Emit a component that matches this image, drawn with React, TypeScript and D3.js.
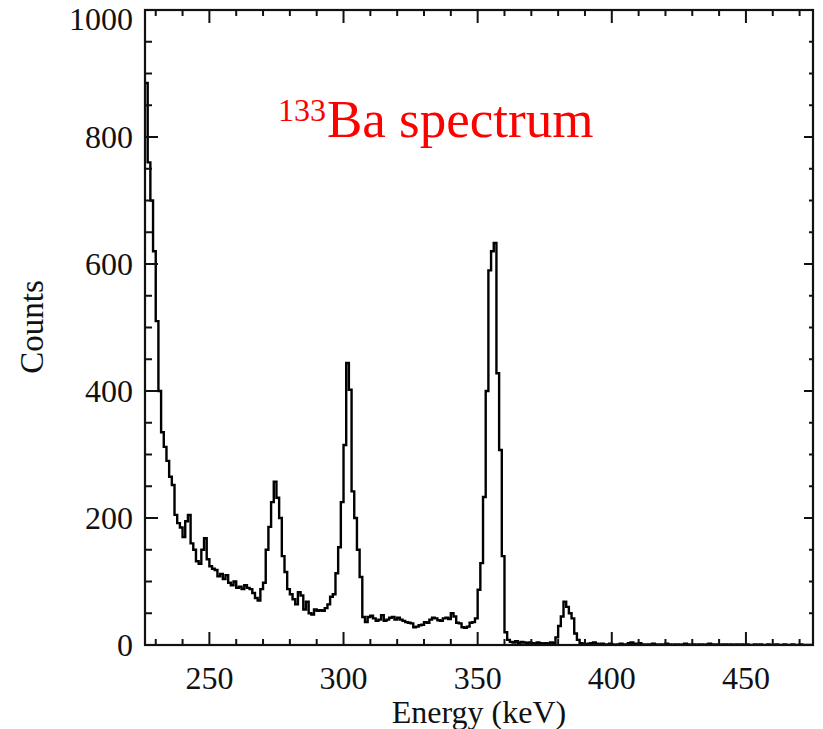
import React from 'react';
import * as d3 from 'd3';

// ---- data (1 keV bins starting at 226 keV) ----
const binStart = 226;
const binWidth = 1;
// 226-269 keV : low-energy tail / backscatter region
const countsLow = [
  885, 760, 700, 620, 510, 400, 335, 312, 290, 265,
  252, 205, 192, 185, 170, 195, 205, 160, 150, 132,
  128, 150, 168, 135, 124, 120, 118, 108, 112, 104,
  110, 98, 94, 100, 90, 92, 88, 94, 90, 88,
  82, 74, 70, 88,
];
// 270-289 keV : 276 keV line
const counts276 = [
  98, 150, 186, 225, 257, 232, 200, 140, 115, 88,
  80, 72, 64, 83, 78, 56, 68, 50, 48, 56,
];
// 290-319 keV : 303 keV line
const counts303 = [
  54, 55, 54, 58, 64, 76, 80, 113, 154, 225,
  315, 444, 402, 242, 200, 150, 107, 44, 36, 44,
  46, 42, 38, 40, 47, 38, 40, 43, 44, 40,
];
// 320-349 keV : plateau
const countsPlateau = [
  43, 40, 38, 36, 35, 34, 28, 29, 31, 32,
  36, 35, 40, 43, 42, 39, 38, 42, 43, 41,
  50, 45, 35, 34, 28, 27, 29, 35, 36, 42,
];
// 350-361 keV : 356 keV line
const counts356 = [87, 129, 233, 400, 590, 620, 633, 428, 307, 140, 20, 8];
// 362-389 keV : 384 keV line
const counts384 = [
  5, 4, 6, 3, 5, 4, 3, 4, 3, 2,
  4, 3, 2, 3, 2, 4, 3, 12, 30, 45,
  68, 60, 50, 42, 18, 8, 3, 2,
];
// 390-474 keV : tail
const countsTail = [
  1, 2, 3, 4, 2, 1, 2, 1, 1, 2,
  1, 0, 1, 2, 1, 1, 3, 4, 2, 1,
  3, 1, 0, 1, 1, 2, 1, 0, 1, 1,
  2, 1, 0, 1, 1, 0, 1, 2, 1, 0,
  1, 0, 1, 1, 0, 1, 2, 1, 0, 1,
  0, 1, 1, 0, 1, 0, 1, 0, 1, 0,
  1, 0, 0, 1, 0, 1, 0, 0, 1, 0,
  0, 1, 0, 0, 1, 0, 0, 1, 0, 0,
  1, 0, 0, 0, 0,
];

const xTicks = [250, 300, 350, 400, 450];
const yTicks = [0, 200, 400, 600, 800, 1000];
const xLabel = 'Energy (keV)';
const yLabel = 'Counts';
const titleIsotope = '133';
const titleText = 'Ba spectrum';

const allCounts = [
  ...countsLow, ...counts276, ...counts303, ...countsPlateau,
  ...counts356, ...counts384, ...countsTail,
];

export default function App() {
  const W = 823, H = 729;
  const left = 145, right = 813, top = 10, bottom = 645;
  const x = d3.scaleLinear().domain([226, 475]).range([left, right]);
  const y = d3.scaleLinear().domain([0, 1000]).range([bottom, top]);

  const pts: [number, number][] = allCounts.map((c, i) => [binStart + i * binWidth, c]);
  const lastE = binStart + allCounts.length * binWidth;
  pts.push([Math.max(lastE, 475), allCounts[allCounts.length - 1]]);
  const line = d3.line<[number, number]>()
    .x(d => x(d[0]))
    .y(d => y(d[1]))
    .curve(d3.curveStepAfter);

  const xMinor = d3.range(230, 475, 10).filter(v => v % 50 !== 0);
  const yMinor = d3.range(50, 1000, 50).filter(v => v % 200 !== 0);
  const font = '"Liberation Serif", "Times New Roman", serif';

  return (
    <svg width={W} height={H} style={{ position: 'absolute', left: 0, top: 0, background: '#fff' }}>
      <defs>
        <clipPath id="plot">
          <rect x={left} y={top} width={right - left} height={bottom - top} />
        </clipPath>
      </defs>
      <rect x={0} y={0} width={W} height={H} fill="#fff" />
      <path d={line(pts) || ''} fill="none" stroke="#000" strokeWidth={2.4} clipPath="url(#plot)" />
      {/* frame */}
      <rect x={left} y={top} width={right - left} height={bottom - top} fill="none" stroke="#111" strokeWidth={2.2} />
      {/* x ticks bottom & top */}
      {xTicks.map(t => (
        <g key={'xt' + t}>
          <line x1={x(t)} x2={x(t)} y1={bottom} y2={bottom - 13} stroke="#111" strokeWidth={2} />
          <line x1={x(t)} x2={x(t)} y1={top} y2={top + 13} stroke="#111" strokeWidth={2} />
          <text x={x(t)} y={689} textAnchor="middle" fontFamily={font} fontSize={32} fill="#111">{t}</text>
        </g>
      ))}
      {xMinor.map(t => (
        <g key={'xm' + t}>
          <line x1={x(t)} x2={x(t)} y1={bottom} y2={bottom - 6} stroke="#111" strokeWidth={2} />
          <line x1={x(t)} x2={x(t)} y1={top} y2={top + 6} stroke="#111" strokeWidth={2} />
        </g>
      ))}
      {/* y ticks left & right */}
      {yTicks.map(t => (
        <g key={'yt' + t}>
          <line x1={left} x2={left + 13} y1={y(t)} y2={y(t)} stroke="#111" strokeWidth={2} />
          <line x1={right} x2={right - 9} y1={y(t)} y2={y(t)} stroke="#111" strokeWidth={2} />
          <text x={133} y={Math.max(y(t) + 11, 30)} textAnchor="end" fontFamily={font} fontSize={32} fill="#111">{t}</text>
        </g>
      ))}
      {yMinor.map(t => (
        <g key={'ym' + t}>
          <line x1={left} x2={left + 7} y1={y(t)} y2={y(t)} stroke="#111" strokeWidth={2} />
          <line x1={right} x2={right - 4} y1={y(t)} y2={y(t)} stroke="#111" strokeWidth={2} />
        </g>
      ))}
      <text x={479} y={723} textAnchor="middle" fontFamily={font} fontSize={32} fill="#111">{xLabel}</text>
      <text transform="translate(43,327) rotate(-90)" textAnchor="middle" fontFamily={font} fontSize={33} fill="#111">{yLabel}</text>
      <text x={278} y={121} fontFamily={font} fontSize={32} fill="#ff0000">{titleIsotope}</text>
      <text x={327} y={137} fontFamily={font} fontSize={53} fill="#ff0000">{titleText}</text>
    </svg>
  );
}
